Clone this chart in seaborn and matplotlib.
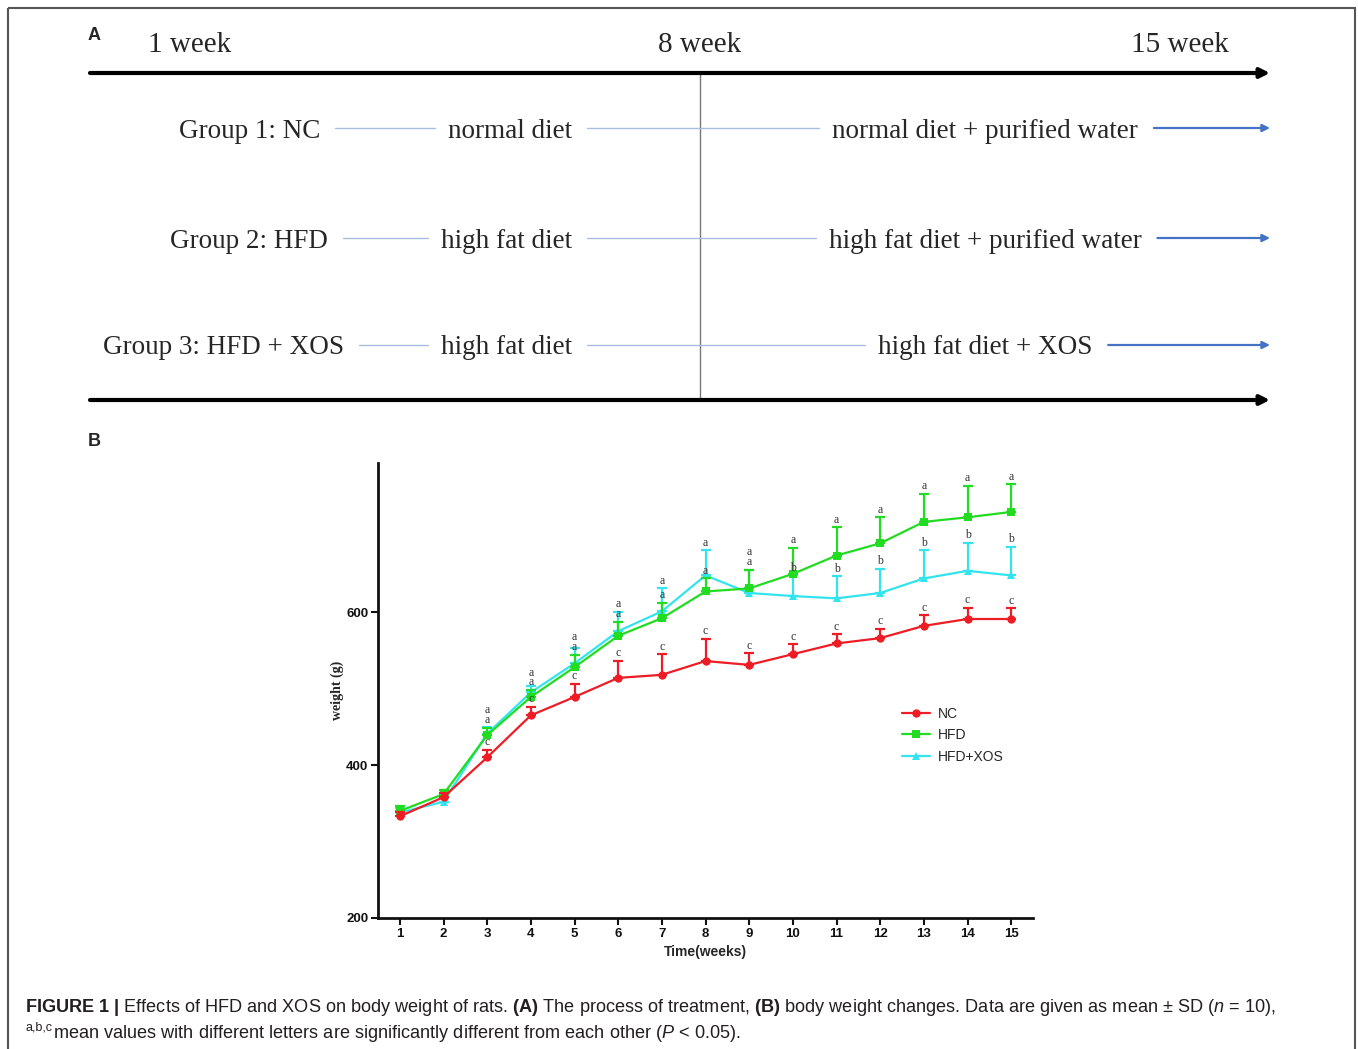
import numpy as np
import pandas as pd
import seaborn as sns
import matplotlib.pyplot as plt

# panel B data
weeks = list(range(1, 16))
nc_mean = [333, 358, 410, 465, 489, 514, 518, 536, 531, 545, 559, 566, 582, 591, 591]
nc_sd = [5, 5, 10, 11, 17, 22, 27, 29, 15, 13, 12, 12, 14, 15, 14]
hfd_mean = [340, 362, 439, 489, 528, 569, 592, 627, 631, 650, 674, 690, 718, 724, 731]
hfd_sd = [6, 6, 10, 9, 16, 18, 20, 17, 24, 34, 37, 34, 37, 41, 36]
xos_mean = [338, 352, 441, 495, 533, 575, 601, 648, 625, 621, 618, 625, 644, 654, 648]
xos_sd = [6, 5, 9, 9, 20, 25, 30, 33, 30, 27, 29, 32, 37, 37, 37]
nc_letters = ['', ''] + ['c'] * 13
hfd_letters = ['', ''] + ['a'] * 13
xos_letters = ['', ''] + ['a'] * 7 + ['b'] * 6

groups = ['NC', 'HFD', 'HFD+XOS']
palette = {'NC': '#ee1d25', 'HFD': '#22dc22', 'HFD+XOS': '#33e4ef'}
markers = {'NC': 'o', 'HFD': 's', 'HFD+XOS': '^'}

# panel A text
week_labels = ['1 week', '8 week', '15 week']
group_labels = ['Group 1: NC', 'Group 2: HFD', 'Group 3: HFD + XOS']
phase1 = ['normal diet', 'high fat diet', 'high fat diet']
phase2 = ['normal diet + purified water', 'high fat diet + purified water', 'high fat diet + XOS']

caption1 = (r'$\mathbf{FIGURE\ 1\ |}$ Effects of HFD and XOS on body weight of rats. $\mathbf{(A)}$ The process '
            r'of treatment, $\mathbf{(B)}$ body weight changes. Data are given as mean ± SD ($\mathit{n}$ = 10),')
caption2_sup = 'a,b,c'
caption2 = r'mean values with different letters are significantly different from each other ($\mathit{P}$ < 0.05).'

sns.set_theme(style='white')
plt.rcParams['font.family'] = ['Liberation Sans', 'DejaVu Sans']
plt.rcParams['mathtext.fontset'] = 'custom'
plt.rcParams['mathtext.rm'] = 'Liberation Sans'
plt.rcParams['mathtext.it'] = 'Liberation Sans:italic'
plt.rcParams['mathtext.bf'] = 'Liberation Sans:bold'
serif = 'Liberation Serif'

W, H = 1358, 1049
fig = plt.figure(figsize=(W / 100, H / 100), dpi=100)
bg = fig.add_axes([0, 0, 1, 1])
bg.set_xlim(0, W)
bg.set_ylim(H, 0)
bg.axis('off')

bg.add_patch(plt.Rectangle((8, 8), 1347, 1100, fill=False, ec='#555555', lw=1.5))

# ---- panel A: treatment scheme
bg.text(88, 36, 'A', fontsize=13, fontweight='bold', va='center')
for lab, x in zip(week_labels, [190, 700, 1180]):
    bg.text(x, 45, lab, family=serif, fontsize=21, ha='center', va='center')
for y in [73, 400]:
    bg.annotate('', xy=(1270, y), xytext=(90, y),
                arrowprops=dict(arrowstyle='-|>', lw=3, color='black', mutation_scale=14, shrinkA=0, shrinkB=0))
bg.plot([700, 700], [73, 400], color='#777777', lw=1)

row_y = [128, 238, 345]
group_right = [320, 328, 344]
rows = []
for i, y in enumerate(row_y):
    t0 = bg.text(group_right[i], y + 3, group_labels[i], family=serif, fontsize=19.5, ha='right', va='center')
    t1 = bg.text(572, y + 3, phase1[i], family=serif, fontsize=19.5, ha='right', va='center')
    t2 = bg.text(985, y + 3, phase2[i], family=serif, fontsize=19.5, ha='center', va='center')
    rows.append((t0, t1, t2))

# ---- caption
bg.text(25, 1008, caption1, fontsize=13.1, color='#231f20', va='center')
sup = bg.text(25, 1028, caption2_sup, fontsize=9, color='#231f20', va='center')

fig.canvas.draw()
r = fig.canvas.get_renderer()
for (t0, t1, t2), y in zip(rows, row_y):
    e0, e1, e2 = t0.get_window_extent(r), t1.get_window_extent(r), t2.get_window_extent(r)
    bg.plot([e0.x1 + 15, e1.x0 - 13], [y, y], color='#a9bde0', lw=1)
    bg.plot([e1.x1 + 15, e2.x0 - 13], [y, y], color='#a9bde0', lw=1)
    bg.annotate('', xy=(1270, y), xytext=(e2.x1 + 16, y),
                arrowprops=dict(arrowstyle='-|>', lw=1.6, color='#4472c4', mutation_scale=11, shrinkA=0, shrinkB=0))
bg.text(sup.get_window_extent(r).x1 + 1, 1034, caption2, fontsize=13.1, color='#231f20', va='center')

# ---- panel B: body weight
bg.text(88, 441, 'B', fontsize=13, fontweight='bold', va='center')

df = pd.DataFrame({
    'week': weeks * 3,
    'weight': nc_mean + hfd_mean + xos_mean,
    'sd': nc_sd + hfd_sd + xos_sd,
    'letter': nc_letters + hfd_letters + xos_letters,
    'group': ['NC'] * 15 + ['HFD'] * 15 + ['HFD+XOS'] * 15,
})
df['label_y'] = df.weight + df.sd + 10
# keep stacked letters of one week apart
for w in weeks:
    idx = df[(df.week == w) & (df.letter != '')].sort_values('label_y').index
    prev = None
    for i in idx:
        if prev is not None and df.loc[i, 'label_y'] - prev < 13:
            df.loc[i, 'label_y'] = prev + 13
        prev = df.loc[i, 'label_y']

ax = fig.add_axes([378 / W, 1 - 918 / H, 655 / W, 455 / H])
ax.set_facecolor('none')
for g in ['HFD+XOS', 'HFD', 'NC']:
    sub = df[df.group == g]
    ax.errorbar(sub.week, sub.weight, yerr=[np.zeros(len(sub)), sub.sd], fmt='none',
                ecolor=palette[g], elinewidth=1.6, capsize=3.5, capthick=1.6)
    sns.lineplot(data=sub, x='week', y='weight', color=palette[g], marker=markers[g],
                 markersize=6, markeredgewidth=0, lw=1.6, label=g, ax=ax)
    for w, ly, lt in zip(sub.week, sub.label_y, sub.letter):
        if lt:
            ax.text(w, ly, lt, ha='center', va='center', family=serif, fontsize=8.5, color='#333333')

ax.set_xlim(0.5, 15.5)
ax.set_ylim(200, 795)
ax.set_xticks(weeks)
ax.set_yticks([200, 400, 600])
sns.despine(ax=ax)
for s in ['left', 'bottom']:
    ax.spines[s].set_linewidth(2)
    ax.spines[s].set_color('#111111')
ax.tick_params(direction='out', length=5, width=1.5, labelsize=9.5, bottom=True, left=True, pad=2, colors='#111111')
for t in ax.get_xticklabels() + ax.get_yticklabels():
    t.set_fontweight('bold')
ax.set_xlabel('Time(weeks)', fontsize=10, fontweight='bold', labelpad=4)
ax.set_ylabel('weight (g)', family=serif, fontsize=10, fontweight='bold')
ax.yaxis.set_label_coords(-0.052, 0.5)

h, l = ax.get_legend_handles_labels()
order = [l.index(g) for g in groups]
ax.legend([h[i] for i in order], groups, loc='upper left', bbox_to_anchor=(0.781, 0.492), frameon=False,
          fontsize=10, handlelength=2, handletextpad=0.6, labelspacing=0.55)

plt.savefig('out.png', dpi=100)
